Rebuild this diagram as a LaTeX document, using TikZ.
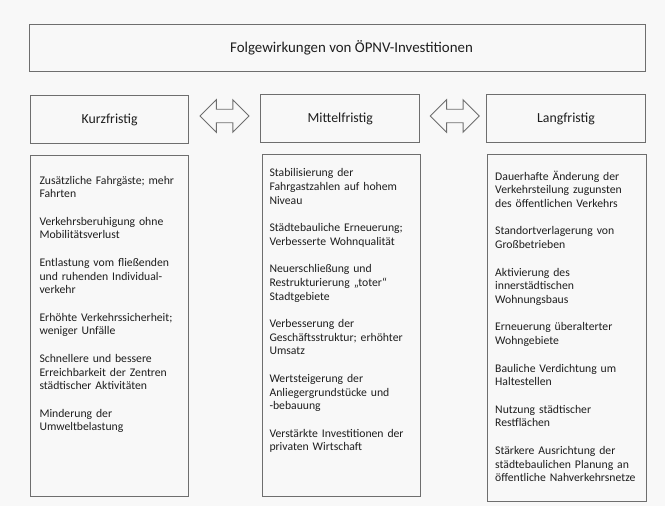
\documentclass[tikz,border=0pt]{standalone}
\usepackage{fontspec}
\setmainfont{Carlito}
\usetikzlibrary{shapes.arrows}
\definecolor{edge}{HTML}{6E6E6E}
\definecolor{ink}{HTML}{1E1E1E}
\definecolor{paper}{HTML}{F8F8F8}
\newcommand\pgap{\\[13.72pt]}
\tikzset{
  box/.style={draw=edge, line width=0.9pt, rectangle, inner sep=0pt},
  headtext/.style={text=ink, font=\fontsize{13.8}{16}\selectfont, inner sep=0pt},
  bodytext/.style={text=ink, font=\fontsize{11.7}{13.72}\selectfont, inner sep=0pt,
    text width=160pt, align=left, anchor=base west},
  twoway/.style={draw=edge, line width=0.9pt, shape=double arrow, inner xsep=0pt,
    inner ysep=6.3pt, double arrow head extend=9.5pt, minimum height=49pt}
}
\begin{document}
\begin{tikzpicture}[x=1pt,y=-1pt]
\useasboundingbox (0,0) rectangle (665,506);
\fill[paper] (0,0) rectangle (665,506);

% title
\node[box, minimum width=615.8pt, minimum height=47pt] (title) at (337.6,47.8) {};
\node[headtext, font=\fontsize{14.9}{17}\selectfont] (titletext) at (351.5,48) {Folgewirkungen von ÖPNV-Investitionen};

% period headers
\node[box, minimum width=158.2pt, minimum height=47.6pt, headtext] (kurz) at (109.6,119.5) {Kurzfristig};
\node[box, minimum width=159.1pt, minimum height=48.2pt, headtext] (mittel) at (340.3,118.6) {Mittelfristig};
\node[box, minimum width=159.1pt, minimum height=48.2pt, headtext] (lang) at (566,118.6) {Langfristig};

% two-way arrows between the periods
\node[twoway] (a1) at (224.6,116) {};
\node[twoway] (a2) at (454.8,116) {};

% content boxes
\node[box, minimum width=158.2pt, minimum height=341pt] (kbox) at (109.6,325.5) {};
\node[box, minimum width=158.3pt, minimum height=342pt] (mbox) at (341.2,325) {};
\node[box, minimum width=158.8pt, minimum height=347pt] (lbox) at (566.6,327.5) {};

\node[bodytext] (ktext) at (39.3,184) {%
Zusätzliche Fahrgäste; mehr\\ Fahrten\pgap
Verkehrsberuhigung ohne\\ Mobilitätsverlust\pgap
Entlastung vom fließenden\\ und ruhenden Individual-\\ verkehr\pgap
Erhöhte Verkehrssicherheit;\\ weniger Unfälle\pgap
Schnellere und bessere\\ Erreichbarkeit der Zentren\\ städtischer Aktivitäten\pgap
Minderung der\\ Umweltbelastung};

\node[bodytext] (mtext) at (269.3,176.6) {%
Stabilisierung der\\ Fahrgastzahlen auf hohem\\ Niveau\pgap
Städtebauliche Erneuerung;\\ Verbesserte Wohnqualität\pgap
Neuerschließung und\\ Restrukturierung „toter“\\ Stadtgebiete\pgap
Verbesserung der\\ Geschäftsstruktur; erhöhter\\ Umsatz\pgap
Wertsteigerung der\\ Anliegergrundstücke und\\ -bebauung\pgap
Verstärkte Investitionen der\\ privaten Wirtschaft};

\node[bodytext] (ltext) at (495,180) {%
Dauerhafte Änderung der\\ Verkehrsteilung zugunsten\\ des öffentlichen Verkehrs\pgap
Standortverlagerung von\\ Großbetrieben\pgap
Aktivierung des\\ innerstädtischen\\ Wohnungsbaus\pgap
Erneuerung überalterter\\ Wohngebiete\pgap
Bauliche Verdichtung um\\ Haltestellen\pgap
Nutzung städtischer\\ Restflächen\pgap
Stärkere Ausrichtung der\\ städtebaulichen Planung an\\ öffentliche Nahverkehrsnetze};
\end{tikzpicture}
\end{document}
